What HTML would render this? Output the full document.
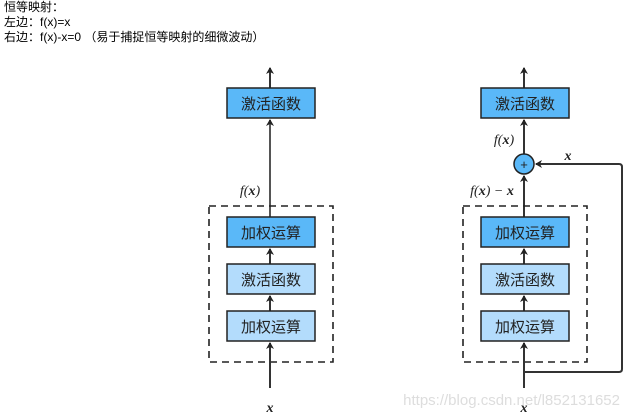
<!DOCTYPE html>
<html><head><meta charset="utf-8"><style>
body{margin:0;background:#fff;width:630px;height:418px;overflow:hidden;position:relative}
.t{position:absolute;left:4px;font:12px "Liberation Sans","Noto Sans CJK SC",sans-serif;color:#000;line-height:15px}
svg{position:absolute;left:0;top:0}
</style></head><body>
<div class="t" style="top:0">恒等映射：</div>
<div class="t" style="top:15px">左边：f(x)=x</div>
<div class="t" style="top:30px">右边：f(x)-x=0 （易于捕捉恒等映射的细微波动）</div>
<svg width="630" height="418" viewBox="0 0 630 418">
<defs><marker id="a" markerWidth="8" markerHeight="8" refX="6" refY="4" orient="auto" markerUnits="userSpaceOnUse"><path d="M0,0 L7,4 L0,8 L2,4 Z" fill="#222"/></marker></defs>
<g font-family="Noto Sans CJK SC, sans-serif" font-size="15" text-anchor="middle" fill="#222">
<!-- left -->
<line x1="270" y1="88" x2="270" y2="68" stroke="#333" stroke-width="2" marker-end="url(#a)"/>
<rect x="227" y="88" width="88" height="30" fill="#5ab8f8" stroke="#222" stroke-width="1.5"/>
<text x="271" y="109">激活函数</text>
<line x1="270" y1="217" x2="270" y2="120" stroke="#555" stroke-width="2" marker-end="url(#a)"/>
<rect x="209" y="206" width="124" height="156" fill="none" stroke="#222" stroke-width="1.6" stroke-dasharray="7,5"/>
<rect x="227" y="217" width="88" height="30" fill="#5ab8f8" stroke="#222" stroke-width="1.5"/>
<text x="271" y="238">加权运算</text>
<line x1="270" y1="264" x2="270" y2="249" stroke="#333" stroke-width="2" marker-end="url(#a)"/>
<rect x="227" y="264" width="88" height="30" fill="#b3dcfc" stroke="#222" stroke-width="1.5"/>
<text x="271" y="285">激活函数</text>
<line x1="270" y1="311" x2="270" y2="296" stroke="#333" stroke-width="2" marker-end="url(#a)"/>
<rect x="227" y="311" width="88" height="30" fill="#b3dcfc" stroke="#222" stroke-width="1.5"/>
<text x="271" y="332">加权运算</text>
<line x1="270" y1="388" x2="270" y2="343" stroke="#333" stroke-width="2" marker-end="url(#a)"/>
<!-- right -->
<line x1="524" y1="88" x2="524" y2="68" stroke="#333" stroke-width="2" marker-end="url(#a)"/>
<rect x="481" y="88" width="88" height="30" fill="#5ab8f8" stroke="#222" stroke-width="1.5"/>
<text x="525" y="109">激活函数</text>
<line x1="524" y1="154" x2="524" y2="120" stroke="#333" stroke-width="2" marker-end="url(#a)"/>
<circle cx="524" cy="164" r="10" fill="#5ab8f8" stroke="#222" stroke-width="1.5"/>
<text x="524" y="169" font-size="13" font-family="Liberation Sans, sans-serif">+</text>
<line x1="524" y1="217" x2="524" y2="176" stroke="#333" stroke-width="2" marker-end="url(#a)"/>
<rect x="463" y="206" width="124" height="156" fill="none" stroke="#222" stroke-width="1.6" stroke-dasharray="7,5"/>
<rect x="481" y="217" width="88" height="30" fill="#5ab8f8" stroke="#222" stroke-width="1.5"/>
<text x="525" y="238">加权运算</text>
<line x1="524" y1="264" x2="524" y2="249" stroke="#333" stroke-width="2" marker-end="url(#a)"/>
<rect x="481" y="264" width="88" height="30" fill="#b3dcfc" stroke="#222" stroke-width="1.5"/>
<text x="525" y="285">激活函数</text>
<line x1="524" y1="311" x2="524" y2="296" stroke="#333" stroke-width="2" marker-end="url(#a)"/>
<rect x="481" y="311" width="88" height="30" fill="#b3dcfc" stroke="#222" stroke-width="1.5"/>
<text x="525" y="332">加权运算</text>
<line x1="524" y1="388" x2="524" y2="343" stroke="#333" stroke-width="2" marker-end="url(#a)"/>
<path d="M524,372 H619 Q622,372 622,369 V167 Q622,164 619,164 H536" fill="none" stroke="#333" stroke-width="2" marker-end="url(#a)"/>
</g>
<g font-family="Liberation Serif, serif" font-style="italic" font-size="14" fill="#222" text-anchor="middle">
<text x="250" y="195">f(<tspan font-weight="bold">x</tspan>)</text>
<text x="270" y="412" font-weight="bold">x</text>
<text x="504" y="144">f(<tspan font-weight="bold">x</tspan>)</text>
<text x="492" y="195">f(<tspan font-weight="bold">x</tspan>) − <tspan font-weight="bold">x</tspan></text>
<text x="568" y="160" font-weight="bold">x</text>
<text x="524" y="412" font-weight="bold">x</text>
</g>
<text x="620" y="405" text-anchor="end" font-family="Liberation Sans, sans-serif" font-size="15" fill="#ddd">https://blog.csdn.net/l852131652</text>
</svg>
</body></html>
